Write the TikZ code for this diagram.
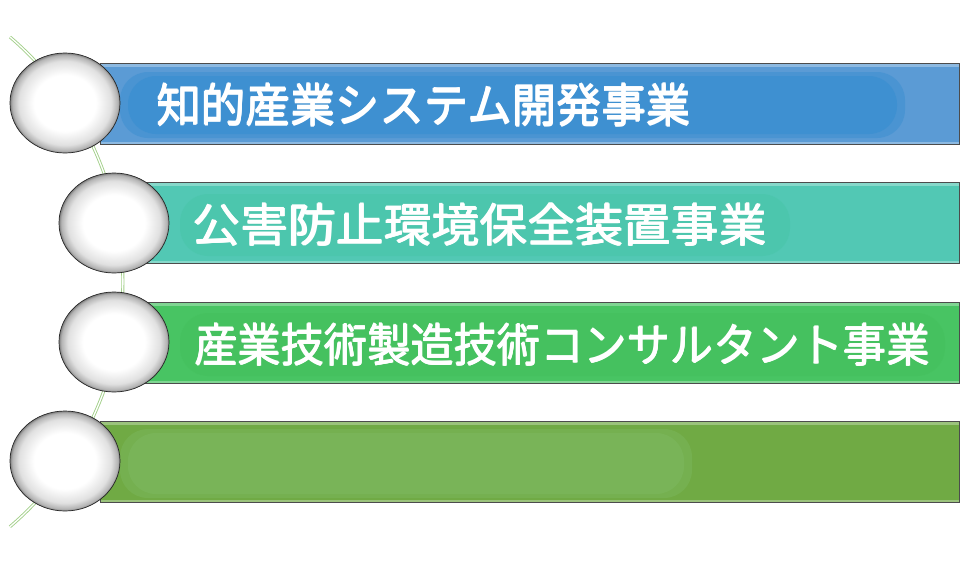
\documentclass[tikz,border=0pt]{standalone}
\usepackage{fontspec}
\newfontfamily\jpfont{Noto Sans CJK JP}
\usetikzlibrary{shapes,positioning,calc}

\definecolor{barone}{HTML}{5B9BD5}
\definecolor{blobone}{HTML}{3A8FD1}
\definecolor{bartwo}{HTML}{52C8B4}
\definecolor{blobtwo}{HTML}{47C6A8}
\definecolor{barthree}{HTML}{48C463}
\definecolor{blobthree}{HTML}{44C05C}
\definecolor{barfour}{HTML}{70AA44}
\definecolor{blobfour}{HTML}{7BB75C}
\definecolor{arcgreen}{HTML}{A3D08A}

\pgfdeclareradialshading{ballshade}{\pgfpoint{0bp}{0bp}}{color(0bp)=(white); color(14bp)=(white); color(21bp)=(black!12); color(24bp)=(black!30); color(25bp)=(black!50); color(50bp)=(black!50)}

% 加粗文字
\newcommand{\heavytext}[1]{\leavevmode\rlap{#1}\rlap{\kern1.1pt #1}\rlap{\kern0.55pt\raisebox{0.55pt}{#1}}\kern0.55pt\raisebox{-0.55pt}{#1}\kern0.55pt}

\begin{document}
\begin{tikzpicture}[x=1pt, y=-1pt,
  bar/.style={draw=black!70, line width=1pt, rectangle, anchor=north west, minimum width=859pt, minimum height=81pt, inner sep=0pt,
    path picture={\draw[white, opacity=0.3, line width=6pt] (path picture bounding box.north west) -- (path picture bounding box.north east);
                  \draw[white, opacity=0.3, line width=6pt] (path picture bounding box.south west) -- (path picture bounding box.south east);}},
  blob/.style={rounded corners=28pt},
  ball/.style={draw=black!85, line width=0.7pt, ellipse, minimum width=110pt, minimum height=100pt, inner sep=0pt, shading=ballshade},
  bartext/.style={text=white, font=\jpfont\fontsize{46}{50}\selectfont, anchor=west, inner sep=0pt},
  arcline/.style={draw=arcgreen, line width=0.9pt, double=white, double distance=1.3pt}]

\fill[white] (0,0) rectangle (960,568);
\useasboundingbox (0,0) rectangle (960,568);

% 曲线
\coordinate (arctop) at (10,37);
\draw[arcline] (arctop) arc[start angle=-49.5, end angle=49.5, radius=322] coordinate (arcbottom);

% 条
\node[bar, fill=barone] (bar1) at (100,63) {};
\node[bar, fill=bartwo] (bar2) at (100,182) {};
\node[bar, fill=barthree] (bar3) at (100,302) {};
\node[bar, fill=barfour] (bar4) at (100,421) {};

% 文字背景
\fill[blobone, blob, opacity=0.5] (120,72) rectangle (905,138);
\fill[blobone, blob, opacity=0.7] (128,76) rectangle (897,134);
\fill[blobtwo, blob, opacity=0.5] (180,194) rectangle (790,256);
\fill[blobthree, blob, opacity=0.5] (180,313) rectangle (945,376);
\fill[blobfour, blob, opacity=0.5] (120,429) rectangle (692,498);
\fill[blobfour, blob, opacity=0.7] (128,433) rectangle (684,494);

% 文字
\node[bartext, xscale=0.97] (text1) at (156,105) {\heavytext{知的産業システム開発事業}};
\node[bartext, xscale=1.04] (text2) at (192,225) {\heavytext{公害防止環境保全装置事業}};
\node[bartext, xscale=0.94] (text3) at (194,345) {\heavytext{産業技術製造技術コンサルタント事業}};

% 圆
\node[ball] (ball1) at (65,103) {};
\node[ball] (ball2) at (114,223) {};
\node[ball] (ball3) at (114,342) {};
\node[ball] (ball4) at (65,461) {};
\end{tikzpicture}
\end{document}
